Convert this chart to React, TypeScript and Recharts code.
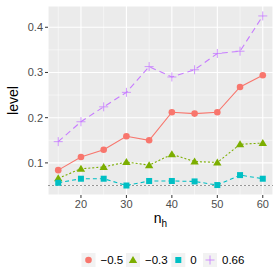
import React from "react";
import {
  LineChart,
  Line,
  XAxis,
  YAxis,
  CartesianGrid,
  ReferenceLine,
} from "recharts";

const nh = [15, 20, 25, 30, 35, 40, 45, 50, 55, 60];
const levelM05 = [0.084, 0.113, 0.129, 0.159, 0.15, 0.212, 0.209, 0.212, 0.268, 0.294];
const levelM03 = [0.066, 0.087, 0.091, 0.102, 0.095, 0.119, 0.103, 0.101, 0.141, 0.144];
const level0 = [0.056, 0.065, 0.065, 0.05, 0.06, 0.06, 0.059, 0.051, 0.073, 0.065];
const level066 = [0.147, 0.191, 0.224, 0.256, 0.313, 0.29, 0.306, 0.342, 0.347, 0.425];

const xTicks = [20, 30, 40, 50, 60];
const yTicks = [0.1, 0.2, 0.3, 0.4];
const xMinor = [15, 25, 35, 45, 55];
const yMinor = [0.05, 0.15, 0.25, 0.35];
const nominal = 0.05;

const data = nh.map((n, i) => ({
  n,
  a: levelM05[i],
  b: levelM03[i],
  c: level0[i],
  d: level066[i],
}));

const COLORS = { a: "#F8766D", b: "#7CAE00", c: "#00BFC4", d: "#C77CFF" };
const FONT = "'Liberation Sans', Arial, sans-serif";

type Shape = "circle" | "triangle" | "square" | "plus";

function Marker({ shape, cx, cy, color }: { shape: Shape; cx: number; cy: number; color: string }) {
  if (shape === "circle") return <circle cx={cx} cy={cy} r={3.3} fill={color} />;
  if (shape === "triangle")
    return (
      <polygon
        points={`${cx},${cy - 4} ${cx - 4.2},${cy + 3} ${cx + 4.2},${cy + 3}`}
        fill={color}
      />
    );
  if (shape === "square")
    return <rect x={cx - 3} y={cy - 3} width={6} height={6} fill={color} />;
  return (
    <g stroke={color} strokeWidth={0.8}>
      <line x1={cx - 4.5} y1={cy} x2={cx + 4.5} y2={cy} />
      <line x1={cx} y1={cy - 4.5} x2={cx} y2={cy + 4.5} />
    </g>
  );
}

const dotFor = (shape: Shape, color: string) => (p: any) =>
  <Marker key={p.index} shape={shape} cx={p.cx} cy={p.cy} color={color} />;

// legend: key centre x for each entry
const legendItems: { label: string; shape: Shape; color: string; x: number }[] = [
  { label: "\u22120.5", shape: "circle", color: COLORS.a, x: 88.5 },
  { label: "\u22120.3", shape: "triangle", color: COLORS.b, x: 133 },
  { label: "0", shape: "square", color: COLORS.c, x: 178.3 },
  { label: "0.66", shape: "plus", color: COLORS.d, x: 210 },
];

const XTitle = (props: any) => {
  const vb = props.viewBox;
  const cx = vb.x + vb.width / 2;
  return (
    <text x={cx} y={vb.y + 28} textAnchor="middle" fontFamily={FONT} fontSize={14} fill="#000">
      n
      <tspan fontSize={10} dy={4}>h</tspan>
    </text>
  );
};

const YTitle = (props: any) => {
  const vb = props.viewBox;
  const cy = vb.y + vb.height / 2;
  return (
    <text x={18} y={cy} transform={`rotate(-90 18 ${cy})`} textAnchor="middle" fontFamily={FONT} fontSize={14} fill="#000">
      level
    </text>
  );
};

export default function App() {
  return (
    <div style={{ position: "absolute", left: 0, top: 0, width: 280, height: 280, background: "#fff", fontFamily: FONT }}>
      <LineChart width={280} height={280} data={data} margin={{ top: 6, right: 7, left: 0, bottom: 0 }}>
        <CartesianGrid stroke="#fff" strokeWidth={1.1} fill="#EBEBEB" />
        {xMinor.map((v) => (
          <ReferenceLine key={"x" + v} x={v} stroke="#fff" strokeWidth={0.5} />
        ))}
        {yMinor.map((v) => (
          <ReferenceLine key={"y" + v} y={v} stroke="#fff" strokeWidth={0.5} />
        ))}
        <XAxis
          dataKey="n"
          type="number"
          domain={[12.75, 62.25]}
          ticks={xTicks}
          allowDataOverflow
          axisLine={false}
          tickLine={{ stroke: "#333", strokeWidth: 1 }}
          tickSize={3}
          tick={{ fontSize: 11, fill: "#4D4D4D", fontFamily: FONT }}
          height={85}
          label={<XTitle />}
        />
        <YAxis
          type="number"
          domain={[0.029, 0.447]}
          ticks={yTicks}
          allowDataOverflow
          axisLine={false}
          tickLine={{ stroke: "#333", strokeWidth: 1 }}
          tickSize={3}
          tick={{ fontSize: 11, fill: "#4D4D4D", fontFamily: FONT }}
          width={48}
          label={<YTitle />}
        />
        <ReferenceLine y={nominal} stroke="#555" strokeWidth={0.6} strokeDasharray="2 2" />
        <Line dataKey="a" stroke={COLORS.a} strokeWidth={1.1} dot={dotFor("circle", COLORS.a)} isAnimationActive={false} />
        <Line dataKey="b" stroke={COLORS.b} strokeWidth={1.1} strokeDasharray="2 2" dot={dotFor("triangle", COLORS.b)} isAnimationActive={false} />
        <Line dataKey="c" stroke={COLORS.c} strokeWidth={1.1} strokeDasharray="4 3" dot={dotFor("square", COLORS.c)} isAnimationActive={false} />
        <Line dataKey="d" stroke={COLORS.d} strokeWidth={1.1} strokeDasharray="6 4" dot={dotFor("plus", COLORS.d)} isAnimationActive={false} />
      </LineChart>
      <svg width={280} height={30} style={{ position: "absolute", left: 0, top: 245 }}>
        {legendItems.map((it) => (
          <g key={it.label}>
            <rect x={it.x - 7} y={8} width={14} height={14} fill="#F2F2F2" />
            <Marker shape={it.shape} cx={it.x} cy={15} color={it.color} />
            <text x={it.x + 12} y={19} fontFamily={FONT} fontSize={11.5} fill="#000">
              {it.label}
            </text>
          </g>
        ))}
      </svg>
    </div>
  );
}
